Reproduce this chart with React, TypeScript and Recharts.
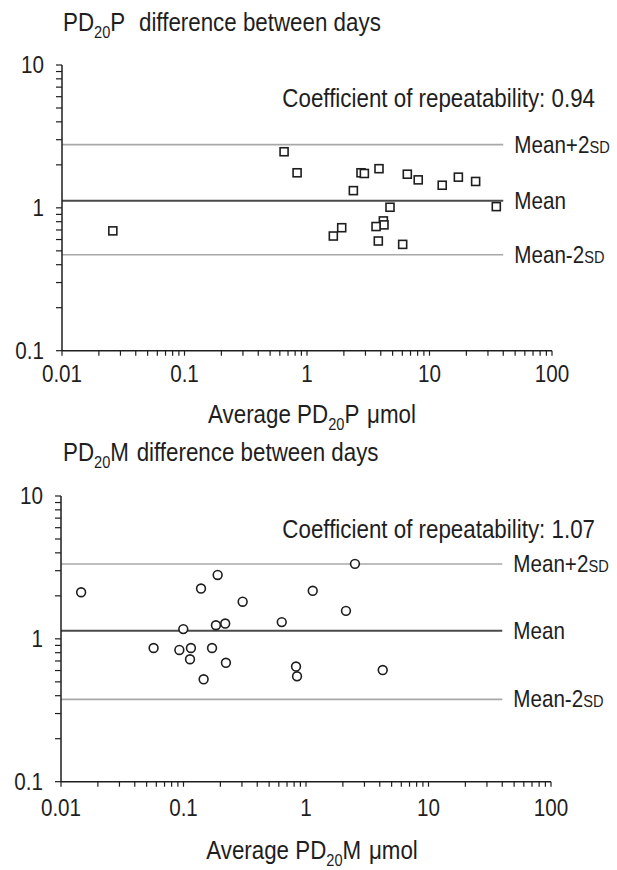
import React from 'react';
import { ScatterChart, Scatter, XAxis, YAxis, ReferenceLine } from 'recharts';

const FONT = "'Liberation Sans', Arial, sans-serif";
const INK = '#1e1e1e';
const SX = 0.86; // horizontal condensing of the lettering

// tick values (log axes)
const X_TICKS = [
  0.01, 0.02, 0.03, 0.04, 0.05, 0.06, 0.07, 0.08, 0.09,
  0.1, 0.2, 0.3, 0.4, 0.5, 0.6, 0.7, 0.8, 0.9,
  1, 2, 3, 4, 5, 6, 7, 8, 9,
  10, 20, 30, 40, 50, 60, 70, 80, 90, 100,
];
const X_LABELS: Record<string, string> = { '0.01': '0.01', '0.1': '0.1', '1': '1', '10': '10', '100': '100' };
const Y_TICKS = [
  0.1, 0.2, 0.3, 0.4, 0.5, 0.6, 0.7, 0.8, 0.9,
  1, 2, 3, 4, 5, 6, 7, 8, 9, 10,
];
const Y_LABELS: Record<string, string> = { '0.1': '0.1', '1': '1', '10': '10' };

// PD20P (top panel)
const P_AVG = [0.026, 0.65, 0.83, 1.64, 1.92, 2.39, 2.76, 2.94, 3.87, 4.76, 4.2, 4.25, 3.66, 3.82, 6.04, 6.59, 8.09, 12.7, 17.2, 23.8, 35.1];
const P_DIFF = [0.69, 2.47, 1.76, 0.635, 0.726, 1.32, 1.76, 1.74, 1.88, 1.01, 0.81, 0.76, 0.74, 0.586, 0.555, 1.72, 1.57, 1.44, 1.64, 1.53, 1.02];
const P_MEAN = 1.12;
const P_UPPER = 2.77;
const P_LOWER = 0.47;
const P_COEF = '0.94';

// PD20M (bottom panel)
const M_AVG = [0.0146, 0.057, 0.0925, 0.0996, 0.115, 0.113, 0.139, 0.146, 0.171, 0.184, 0.19, 0.219, 0.222, 0.304, 0.634, 0.829, 0.845, 1.135, 2.51, 2.12, 4.23];
const M_DIFF = [2.12, 0.863, 0.836, 1.17, 0.863, 0.72, 2.25, 0.521, 0.863, 1.245, 2.8, 1.28, 0.68, 1.82, 1.31, 0.64, 0.547, 2.17, 3.35, 1.57, 0.605];
const M_MEAN = 1.14;
const M_UPPER = 3.34;
const M_LOWER = 0.377;
const M_COEF = '1.07';

const LINE_END = 40;

const T = ({ x, y, size = 25, anchor = 'start', children }: any) => (
  <text
    transform={`translate(${x},${y}) scale(${SX},1)`}
    textAnchor={anchor}
    fontFamily={FONT}
    fontSize={size}
    fill={INK}
  >
    {children}
  </text>
);

const makeXTick = (dy: number) => (props: any) => {
  const { x, y, payload } = props;
  const lab = X_LABELS[String(payload.value)];
  if (!lab) return <g />;
  return (
    <T x={x} y={y + dy} size={24} anchor="middle">
      {lab}
    </T>
  );
};

const YTick = (props: any) => {
  const { x, y, payload } = props;
  const lab = Y_LABELS[String(payload.value)];
  if (!lab) return <g />;
  return (
    <T x={x - 12} y={y + 8} size={24} anchor="end">
      {lab}
    </T>
  );
};

const Square = (props: any) => {
  const { cx, cy } = props;
  return <rect x={cx - 4} y={cy - 4} width={8} height={8} fill="#fff" stroke={INK} strokeWidth={1.6} />;
};

const Circle = (props: any) => {
  const { cx, cy } = props;
  return <circle cx={cx} cy={cy} r={4.4} fill="#fff" stroke={INK} strokeWidth={1.6} />;
};

const lineLabel = (kind: 'plus' | 'mean' | 'minus') => (props: any) => {
  const vb = props.viewBox || {};
  const x = (vb.x || 0) + (vb.width || 0) + 11;
  const y = (vb.y || 0) + (vb.height || 0) / 2 + 8;
  return (
    <T x={x} y={y} size={24}>
      {kind === 'mean' ? 'Mean' : kind === 'plus' ? 'Mean+2' : 'Mean-2'}
      {kind !== 'mean' ? <tspan fontSize={17}>SD</tspan> : null}
    </T>
  );
};

type PanelProps = {
  avg: number[];
  diff: number[];
  mean: number;
  upper: number;
  lower: number;
  marker: 'square' | 'circle';
  top: number;
  left: number;
  right: number;
  xAxisHeight: number;
  labelDy: number;
};

const Panel = ({ avg, diff, mean, upper, lower, marker, top, left, right, xAxisHeight, labelDy }: PanelProps) => {
  const data = avg.map((a, i) => ({ x: a, y: diff[i] }));
  const XTick = makeXTick(labelDy);
  return (
    <ScatterChart width={617} height={430} margin={{ top, right, bottom: 0, left: 0 }}>
      <XAxis
        type="number"
        dataKey="x"
        scale="log"
        domain={[0.01, 100]}
        ticks={X_TICKS}
        interval={0}
        allowDataOverflow
        height={xAxisHeight}
        tick={<XTick />}
        tickSize={5}
        tickMargin={0}
        axisLine={{ stroke: INK, strokeWidth: 1.5 }}
        tickLine={{ stroke: INK, strokeWidth: 1.2 }}
      />
      <YAxis
        type="number"
        dataKey="y"
        scale="log"
        domain={[0.1, 10]}
        ticks={Y_TICKS}
        interval={0}
        allowDataOverflow
        width={left}
        tick={<YTick />}
        tickSize={6}
        tickMargin={0}
        axisLine={{ stroke: INK, strokeWidth: 1.5 }}
        tickLine={{ stroke: INK, strokeWidth: 1.2 }}
      />
      <ReferenceLine
        segment={[{ x: 0.01, y: upper }, { x: LINE_END, y: upper }]}
        stroke="#a8a8a8"
        strokeWidth={1.6}
        label={lineLabel('plus')}
      />
      <ReferenceLine
        segment={[{ x: 0.01, y: mean }, { x: LINE_END, y: mean }]}
        stroke="#4a4a4a"
        strokeWidth={2}
        label={lineLabel('mean')}
      />
      <ReferenceLine
        segment={[{ x: 0.01, y: lower }, { x: LINE_END, y: lower }]}
        stroke="#a8a8a8"
        strokeWidth={1.6}
        label={lineLabel('minus')}
      />
      <Scatter data={data} isAnimationActive={false} shape={marker === 'square' ? <Square /> : <Circle />} />
    </ScatterChart>
  );
};

const Title = ({ y, letter }: { y: number; letter: string }) => (
  <T x={63} y={y} size={26}>
    PD<tspan fontSize={17} dy={7}>20</tspan>
    <tspan dy={-7}>{letter}</tspan>
    <tspan dx={letter === 'P' ? 16 : 9}>difference between days</tspan>
  </T>
);

const AxisTitle = ({ y, letter }: { y: number; letter: string }) => (
  <T x={312} y={y} size={26} anchor="middle">
    Average PD<tspan fontSize={17} dy={7}>20</tspan>
    <tspan dy={-7}>{letter}</tspan>
    <tspan dx={9}>μmol</tspan>
  </T>
);

export default function App() {
  return (
    <div style={{ position: 'absolute', left: 0, top: 0, width: 617, height: 870, background: '#fff' }}>
      <div style={{ position: 'absolute', left: 0, top: 0 }}>
        <Panel
          avg={P_AVG}
          diff={P_DIFF}
          mean={P_MEAN}
          upper={P_UPPER}
          lower={P_LOWER}
          marker="square"
          top={65}
          left={62}
          right={65}
          xAxisHeight={79.3}
          labelDy={26}
        />
      </div>
      <div style={{ position: 'absolute', left: 0, top: 440 }}>
        <Panel
          avg={M_AVG}
          diff={M_DIFF}
          mean={M_MEAN}
          upper={M_UPPER}
          lower={M_LOWER}
          marker="circle"
          top={56}
          left={61}
          right={66}
          xAxisHeight={88.3}
          labelDy={29}
        />
      </div>
      <svg width={617} height={870} style={{ position: 'absolute', left: 0, top: 0, pointerEvents: 'none' }}>
        <Title y={31} letter="P" />
        <T x={595} y={107} size={26} anchor="end">
          Coefficient of repeatability: {P_COEF}
        </T>
        <AxisTitle y={423} letter="P" />
        <Title y={461} letter="M" />
        <T x={595} y={538} size={26} anchor="end">
          Coefficient of repeatability: {M_COEF}
        </T>
        <AxisTitle y={859} letter="M" />
      </svg>
    </div>
  );
}
